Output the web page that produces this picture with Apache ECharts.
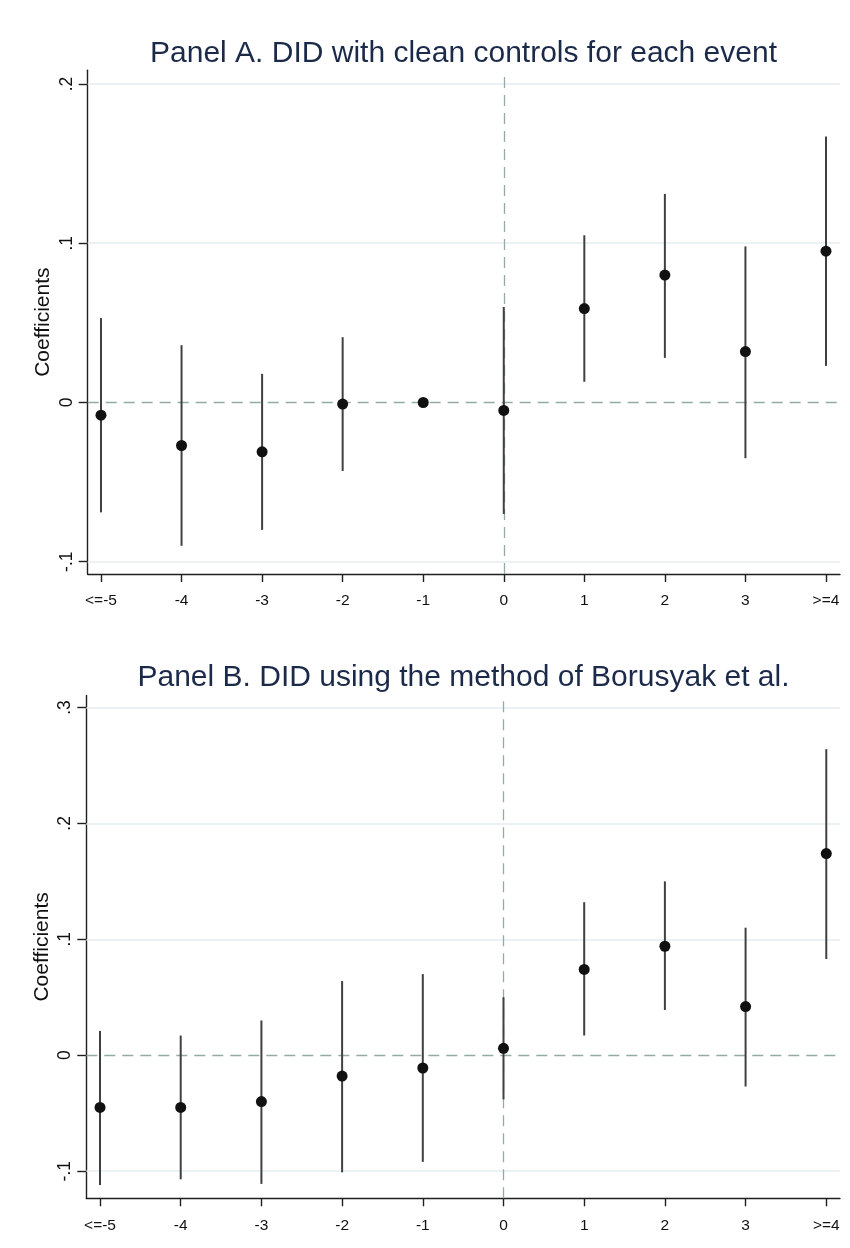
<!DOCTYPE html>
<html>
<head>
<meta charset="utf-8">
<script src="https://cdn.jsdelivr.net/npm/echarts@6/dist/echarts.min.js"></script>
<style>
html,body{margin:0;padding:0;background:#fff;}
#chart{width:850px;height:1248px;}
</style>
</head>
<body>
<div id="chart"></div>
<script>
// ---- data ----
const categories = ['<=-5', '-4', '-3', '-2', '-1', '0', '1', '2', '3', '>=4'];
const titleA = 'Panel A. DID with clean controls for each event';
const titleB = 'Panel B. DID using the method of Borusyak et al.';
const yName = 'Coefficients';
const coefA = [-0.008, -0.027, -0.031, -0.001, 0.000, -0.005, 0.059, 0.080, 0.032, 0.095];
const loA   = [-0.069, -0.090, -0.080, -0.043, 0.000, -0.070, 0.013, 0.028, -0.035, 0.023];
const hiA   = [ 0.053,  0.036,  0.018,  0.041, 0.000,  0.060, 0.105, 0.131,  0.098, 0.167];
const coefB = [-0.045, -0.045, -0.040, -0.018, -0.011, 0.006, 0.074, 0.094, 0.042, 0.174];
const loB   = [-0.112, -0.107, -0.111, -0.101, -0.092, -0.038, 0.017, 0.039, -0.027, 0.083];
const hiB   = [ 0.021,  0.017,  0.030,  0.064,  0.070, 0.050, 0.132, 0.150, 0.110, 0.264];
const yTicksA = [-0.1, 0, 0.1, 0.2];
const yTicksB = [-0.1, 0, 0.1, 0.2, 0.3];
const eventIndex = 5; // position of event time 0

// ---- build ----
const FONT = '"Liberation Sans", Arial, sans-serif';
const idx = categories.map((c, i) => i);
const fmtY = v => v === 0 ? '0' : (v < 0 ? '-' : '') + String(Math.abs(v)).replace(/^0/, '');
const AX = '#1f1f1f';
const GRIDC = '#e6edf1';
const DASHC = '#93aba3';

function xAxisCfg(gi, min, max) {
  return {
    type: 'value', gridIndex: gi, min: min, max: max,
    axisLine: {show: true, onZero: false, lineStyle: {color: AX, width: 1.4}},
    axisTick: {show: true, length: 8, customValues: idx, lineStyle: {color: AX, width: 1.4}},
    axisLabel: {customValues: idx, formatter: v => categories[Math.round(v)], margin: 19,
      fontFamily: FONT, fontSize: 15.5, color: '#111'},
    splitLine: {show: false}
  };
}
function yAxisCfg(gi, min, max, ticks) {
  return {
    type: 'value', gridIndex: gi, min: min, max: max,
    name: yName, nameLocation: 'middle', nameGap: 34, nameRotate: 90, nameMoveOverlap: false,
    nameTextStyle: {fontFamily: FONT, fontSize: 21, color: '#111'},
    axisLine: {show: true, onZero: false, lineStyle: {color: AX, width: 1.4}},
    axisTick: {show: true, length: 9, customValues: ticks, lineStyle: {color: AX, width: 1.4}},
    axisLabel: {customValues: ticks, formatter: fmtY, rotate: 90, margin: 12,
      fontFamily: FONT, fontSize: 17.5, color: '#111'},
    splitLine: {show: false}
  };
}
function errSeries(gi, lo, hi, ticks) {
  const gridLines = ticks.filter(t => t !== 0).map(t => ({yAxis: t, lineStyle: {color: GRIDC, width: 1.6, type: 'solid'}}));
  return {
    type: 'custom', xAxisIndex: gi, yAxisIndex: gi, z: 3, silent: true,
    data: idx.map(i => [i, lo[i], hi[i]]),
    encode: {x: 0, y: [1, 2]},
    renderItem: function (params, api) {
      const p1 = api.coord([api.value(0), api.value(1)]);
      const p2 = api.coord([api.value(0), api.value(2)]);
      return {type: 'line', shape: {x1: p1[0], y1: p1[1], x2: p2[0], y2: p2[1]},
        style: {stroke: '#404040', lineWidth: 2}};
    },
    markLine: {
      silent: true, symbol: 'none', label: {show: false}, z: 1,
      data: gridLines.concat([
        {yAxis: 0, lineStyle: {color: DASHC, width: 1.3, type: [11, 7]}},
        {xAxis: eventIndex, lineStyle: {color: DASHC, width: 1.3, type: [11, 7]}}
      ])
    }
  };
}
function dotSeries(gi, coef) {
  return {
    type: 'scatter', xAxisIndex: gi, yAxisIndex: gi, z: 4, silent: true,
    symbol: 'circle', symbolSize: 11,
    itemStyle: {color: '#111', opacity: 1},
    data: idx.map(i => [i, coef[i]])
  };
}

const chart = echarts.init(document.getElementById('chart'), null, {renderer: 'canvas'});
chart.setOption({
  animation: false,
  backgroundColor: '#ffffff',
  grid: [
    {left: 87.7, top: 70.3, width: 752.3, height: 503.7},
    {left: 86.3, top: 695.5, width: 753.7, height: 502.8}
  ],
  xAxis: [xAxisCfg(0, -0.165, 9.174), xAxisCfg(1, -0.17, 9.17)],
  yAxis: [yAxisCfg(0, -0.1077, 0.2086, yTicksA), yAxisCfg(1, -0.1234, 0.3103, yTicksB)],
  graphic: [
    {type: 'text', x: 463.5, y: 54, style: {text: titleA, fontFamily: FONT, fontSize: 30,
      fill: '#1c2a4a', align: 'center', verticalAlign: 'middle'}},
    {type: 'text', x: 463.5, y: 678, style: {text: titleB, fontFamily: FONT, fontSize: 30,
      fill: '#1c2a4a', align: 'center', verticalAlign: 'middle'}}
  ],
  series: [
    errSeries(0, loA, hiA, yTicksA), dotSeries(0, coefA),
    errSeries(1, loB, hiB, yTicksB), dotSeries(1, coefB)
  ]
});
</script>
</body>
</html>
